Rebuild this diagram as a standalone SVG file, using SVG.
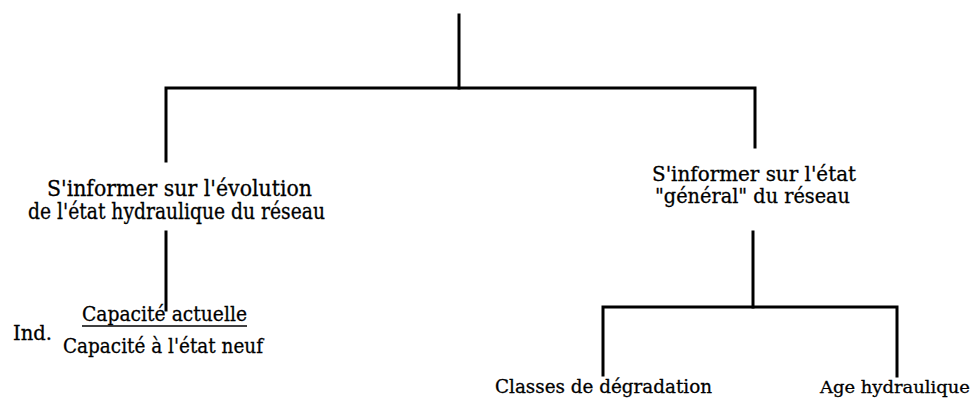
<svg xmlns="http://www.w3.org/2000/svg" width="976" height="401" viewBox="0 0 976 401">
<style>
.c{stroke:#000;stroke-width:3;fill:none;stroke-linecap:square}
text{font-family:'DejaVu Serif','Liberation Serif',serif;fill:#000;stroke:#000;stroke-width:0.3}
.l{font-size:22px}
.r{font-size:20px}
.s{font-size:21px}
.b{font-size:19px}
.a{font-size:17.5px}
</style>
<rect width="976" height="401" fill="#fff"/>
<g id="connectors" class="c">
<path d="M459 15V88"/>
<path d="M166 161V88H755V147"/>
<path d="M166 232V310"/>
<path d="M753 232V307"/>
<path d="M603 375V307H897V376"/>
</g>
<g id="node-evolution">
<text class="l" x="47" y="196" textLength="265" lengthAdjust="spacingAndGlyphs">S'informer sur l'évolution</text>
<text class="l" x="28" y="219" textLength="297" lengthAdjust="spacingAndGlyphs">de l'état hydraulique du réseau</text>
</g>
<g id="node-general">
<text class="r" x="652" y="181" textLength="204" lengthAdjust="spacingAndGlyphs">S'informer sur l'état</text>
<text class="r" x="655" y="203" textLength="195" lengthAdjust="spacingAndGlyphs">"général" du réseau</text>
</g>
<g id="node-indicateur">
<text class="s" x="13" y="340" textLength="39" lengthAdjust="spacingAndGlyphs">Ind.</text>
<text class="s" x="82" y="321" textLength="165" lengthAdjust="spacingAndGlyphs">Capacité actuelle</text>
<line x1="82" y1="326" x2="247" y2="326" stroke="#000" stroke-width="1.6"/>
<text class="s" x="63" y="353" textLength="200" lengthAdjust="spacingAndGlyphs">Capacité à l'état neuf</text>
</g>
<g id="node-classes">
<text class="b" x="495" y="393" textLength="217" lengthAdjust="spacingAndGlyphs">Classes de dégradation</text>
</g>
<g id="node-age">
<text class="a" x="820" y="393" textLength="150" lengthAdjust="spacingAndGlyphs">Age hydraulique</text>
</g>
</svg>
